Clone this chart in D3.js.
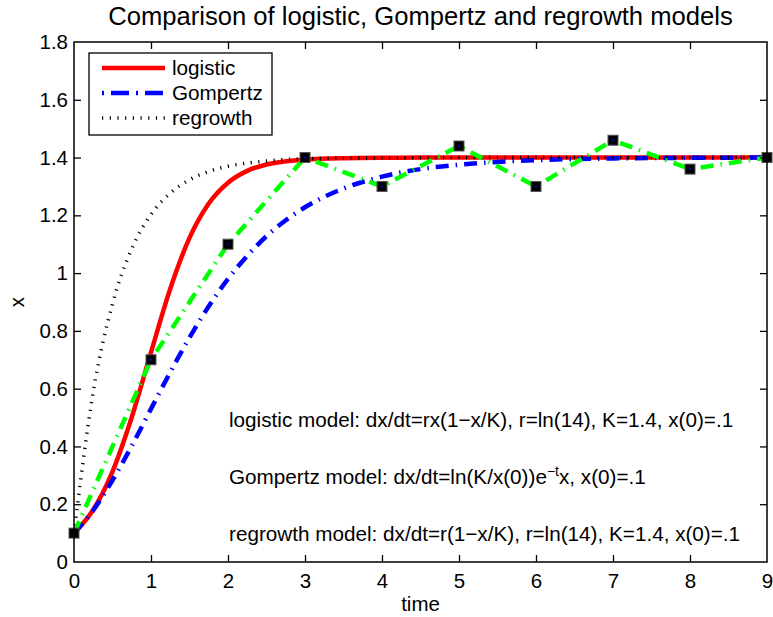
<!DOCTYPE html>
<html lang="en">
<head>
    <meta charset="UTF-8">
    <title>Logistic, Gompertz and regrowth models</title>
    <script src="https://d3js.org/d3.v7.min.js"></script>
    <style>
        body { margin: 0; background: #fff; }
        text { font-family: "Liberation Sans", Arial, sans-serif; fill: #000; }
    </style>
</head>
<body>

<svg width="773" height="617"></svg>

<script>
    // time grid shared by the three model curves
    const times = [0, 0.25, 0.5, 0.75, 1, 1.25, 1.5, 1.75, 2, 2.25, 2.5, 2.75, 3, 3.5, 4, 4.5, 5, 5.5, 6, 7, 8, 9];

    const logistic = [0.1, 0.181, 0.313, 0.501, 0.726, 0.946, 1.122, 1.241, 1.313, 1.354, 1.376, 1.387, 1.393, 1.398, 1.3995, 1.3999, 1.4, 1.4, 1.4, 1.4, 1.4, 1.4];
    const gompertz = [0.1, 0.179, 0.283, 0.402, 0.530, 0.657, 0.777, 0.885, 0.980, 1.060, 1.128, 1.183, 1.228, 1.293, 1.334, 1.360, 1.375, 1.385, 1.391, 1.397, 1.399, 1.400];
    const regrowth = [0.1, 0.589, 0.894, 1.084, 1.203, 1.277, 1.323, 1.352, 1.370, 1.381, 1.388, 1.393, 1.396, 1.398, 1.399, 1.3995, 1.4, 1.4, 1.4, 1.4, 1.4, 1.4];

    // observed data (green line with square markers)
    const dataT = [0, 1, 2, 3, 4, 5, 6, 7, 8, 9];
    const dataX = [0.1, 0.7, 1.1, 1.4, 1.3, 1.44, 1.3, 1.46, 1.36, 1.4];

    const xTicks = [0, 1, 2, 3, 4, 5, 6, 7, 8, 9];
    const yTicks = [0, 0.2, 0.4, 0.6, 0.8, 1, 1.2, 1.4, 1.6, 1.8];
    const yTickLabels = ["0", "0.2", "0.4", "0.6", "0.8", "1", "1.2", "1.4", "1.6", "1.8"];

    const legendNames = ["logistic", "Gompertz", "regrowth"];
    const notes = [
        "logistic model: dx/dt=rx(1\u2212x/K), r=ln(14), K=1.4, x(0)=.1",
        "Gompertz model: dx/dt=ln(K/x(0))e",
        "regrowth model: dx/dt=r(1\u2212x/K), r=ln(14), K=1.4, x(0)=.1"
    ];

    // plot box
    const box = { left: 74, right: 767, top: 42, bottom: 562 };

    const x = d3.scaleLinear().domain([0, 9]).range([box.left, box.right]);
    const y = d3.scaleLinear().domain([0, 1.8]).range([box.bottom, box.top]);

    const svg = d3.select("svg");

    // line styles
    const styles = {
        logistic: { color: "#ff0000", width: 4.5, dash: null },
        gompertz: { color: "#0000ff", width: 4.5, dash: "13,7,1.5,7" },
        regrowth: { color: "#000000", width: 3.5, dash: "1.2,6.5" }
    };

    const curve = d3.line()
        .x(d => x(d[0]))
        .y(d => y(d[1]))
        .curve(d3.curveMonotoneX);

    const plot = svg.append("g");

    const series = [
        { key: "logistic", values: logistic },
        { key: "gompertz", values: gompertz },
        { key: "regrowth", values: regrowth }
    ];

    series.forEach(s => {
        const st = styles[s.key];
        plot.append("path")
            .attr("d", curve(times.map((t, i) => [t, s.values[i]])))
            .attr("fill", "none")
            .attr("stroke", st.color)
            .attr("stroke-width", st.width)
            .attr("stroke-dasharray", st.dash);
    });

    // data line
    plot.append("path")
        .attr("d", d3.line().x(d => x(d[0])).y(d => y(d[1]))(dataT.map((t, i) => [t, dataX[i]])))
        .attr("fill", "none")
        .attr("stroke", "#00ff00")
        .attr("stroke-width", 4.5)
        .attr("stroke-dasharray", "13,7,1.5,7");

    // square markers
    const marks = plot.selectAll(".mark")
        .data(dataT.map((t, i) => [t, dataX[i]]))
        .enter()
        .append("g")
        .attr("transform", d => `translate(${x(d[0])},${y(d[1])})`);

    marks.append("rect")
        .attr("x", -5).attr("y", -5)
        .attr("width", 10).attr("height", 10)
        .attr("fill", "#000")
        .attr("stroke", "#555")
        .attr("stroke-width", 1);

    marks.append("circle")
        .attr("r", 1)
        .attr("fill", "#0000ff");

    // axes with inward ticks on all four sides
    const fmtY = d => yTickLabels[yTicks.indexOf(d)];

    const axB = svg.append("g")
        .attr("transform", `translate(0,${box.bottom})`)
        .call(d3.axisBottom(x).tickValues(xTicks).tickSize(-7).tickPadding(11).tickFormat(d3.format("d")));
    const axT = svg.append("g")
        .attr("transform", `translate(0,${box.top})`)
        .call(d3.axisTop(x).tickValues(xTicks).tickSize(-7).tickFormat(""));
    const axL = svg.append("g")
        .attr("transform", `translate(${box.left},0)`)
        .call(d3.axisLeft(y).tickValues(yTicks).tickSize(-7).tickPadding(6).tickFormat(fmtY));
    const axR = svg.append("g")
        .attr("transform", `translate(${box.right},0)`)
        .call(d3.axisRight(y).tickValues(yTicks).tickSize(-7).tickFormat(""));

    [axB, axT, axL, axR].forEach(a => {
        a.select(".domain").remove();
        a.selectAll("line").attr("stroke", "#000").attr("stroke-width", 1.3);
        a.selectAll("text")
            .attr("font-family", "'Liberation Sans', Arial, sans-serif")
            .attr("font-size", 20.5)
            .attr("fill", "#000");
    });
    // drop the end ticks that sit on the box corners
    [axB, axT].forEach(a => a.selectAll(".tick line").filter(d => d === 0 || d === 9).remove());
    [axL, axR].forEach(a => a.selectAll(".tick line").filter(d => d === 0 || d === 1.8).remove());

    svg.append("rect")
        .attr("x", box.left).attr("y", box.top)
        .attr("width", box.right - box.left).attr("height", box.bottom - box.top)
        .attr("fill", "none")
        .attr("stroke", "#000")
        .attr("stroke-width", 1.5);

    // title and axis labels
    svg.append("text")
        .attr("x", (box.left + box.right) / 2).attr("y", 25)
        .attr("text-anchor", "middle")
        .attr("font-size", 25.6)
        .text("Comparison of logistic, Gompertz and regrowth models");

    svg.append("text")
        .attr("x", (box.left + box.right) / 2).attr("y", 611)
        .attr("text-anchor", "middle")
        .attr("font-size", 20.5)
        .text("time");

    svg.append("text")
        .attr("transform", `translate(24,${(box.top + box.bottom) / 2}) rotate(-90)`)
        .attr("text-anchor", "middle")
        .attr("font-size", 20.5)
        .text("x");

    // legend
    const legend = svg.append("g");
    legend.append("rect")
        .attr("x", 89).attr("y", 53)
        .attr("width", 183).attr("height", 82)
        .attr("fill", "#fff")
        .attr("stroke", "#000")
        .attr("stroke-width", 1.3);

    const legendRows = [68, 93, 118];
    ["logistic", "gompertz", "regrowth"].forEach((k, i) => {
        const st = styles[k];
        legend.append("line")
            .attr("x1", 102).attr("x2", 165)
            .attr("y1", legendRows[i]).attr("y2", legendRows[i])
            .attr("stroke", st.color)
            .attr("stroke-width", st.width)
            .attr("stroke-dasharray", k === "gompertz" ? "2,7,18,7" : st.dash);
        legend.append("text")
            .attr("x", 172).attr("y", legendRows[i])
            .attr("dy", "0.35em")
            .attr("font-size", 20.7)
            .text(legendNames[i]);
    });

    // model notes
    const noteY = [426.5, 483.5, 540.5];
    notes.forEach((n, i) => {
        const t = svg.append("text")
            .attr("x", 229).attr("y", noteY[i])
            .attr("font-size", 20.7)
            .text(n);
        if (i === 1) {
            t.append("tspan").attr("dy", -8).attr("font-size", 14).text("\u2212t");
            t.append("tspan").attr("dy", 8).text("x, x(0)=.1");
        }
    });
</script>

</body>
</html>
